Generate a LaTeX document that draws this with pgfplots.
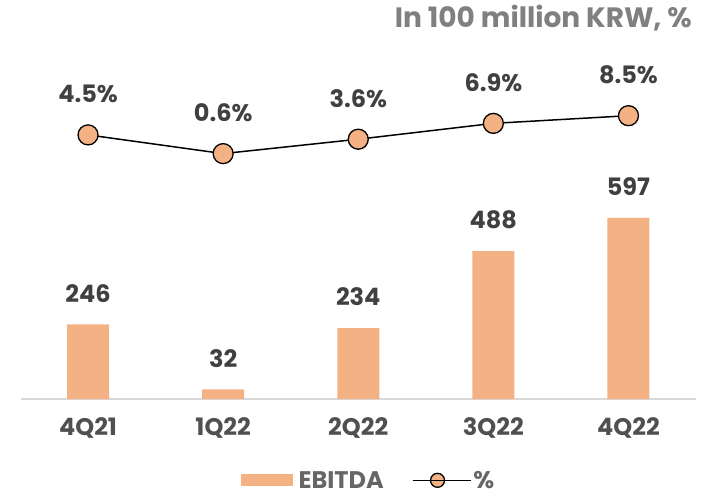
\documentclass[border=0pt]{standalone}
\usepackage{fontspec}
\setmainfont{Poppins}[BoldFont={Poppins Bold}]
\usepackage{pgfplots}
\pgfplotsset{compat=1.18}
\definecolor{barc}{HTML}{F4B183}
\definecolor{lab}{HTML}{404040}
\definecolor{tick}{HTML}{505050}
\definecolor{leg}{HTML}{666666}
\definecolor{ttl}{HTML}{808080}
\definecolor{base}{HTML}{D9D9D9}
\newcommand{\f}{\fontsize{24bp}{28bp}\selectfont\bfseries}
\newcommand{\ft}{\fontsize{28bp}{32bp}\selectfont\bfseries}
\begin{document}
\begin{tikzpicture}
\useasboundingbox (0,0) rectangle (702bp,497bp);
\node[anchor=base east, text=ttl, font=\ft, inner sep=0pt] at (692bp,469bp) {In 100 million KRW, \%};
\begin{axis}[
  at={(20.5bp,98bp)}, anchor=south west,
  scale only axis, width=675.5bp, height=299bp,
  xmin=-0.5, xmax=4.5, ymin=0, ymax=986.2,
  /pgf/number format/assume math mode=true,
  axis x line=bottom, axis y line=none,
  x axis line style={draw=base, line width=1.5bp, -},
  xtick=data, xticklabels={4Q21,1Q22,2Q22,3Q22,4Q22},
  major tick length=0pt,
  xticklabel style={anchor=center, yshift=-29bp, text=tick, font=\f},
  ytick=\empty,
  clip=false,
  legend columns=2,
  legend style={at={(0.515,-0.272)}, anchor=center, draw=none, fill=none,
    font=\f, text=leg, inner sep=0pt,
    /tikz/every even column/.append style={column sep=26bp}},
]
\addplot[ybar, bar width=42bp, fill=barc, draw=none,
  nodes near coords, nodes near coords style={anchor=center, yshift=31bp, text=lab, font=\f},
  legend image code/.code={\fill[barc] (0bp,-6bp) rectangle (52bp,6bp); \path (0bp,0bp) -- (56bp,0bp);}]
  coordinates {(0,246) (1,32) (2,234) (3,488) (4,597)};
\addlegendentry{EBITDA}
\addlegendimage{black, line width=1.5bp, mark=*, mark size=7bp,
  mark options={fill=barc, draw=black, line width=1.3bp},
  legend image code/.code={\draw[black, line width=1.5bp] (0bp,0bp) -- (50bp,0bp);
    \draw[fill=barc, draw=black, line width=1.3bp] (25bp,0bp) circle (7bp); \path (0bp,0bp) -- (58bp,0bp);}}
\addlegendentry{\%}
\end{axis}
\begin{axis}[
  at={(20.5bp,98bp)}, anchor=south west,
  scale only axis, width=675.5bp, height=299bp,
  xmin=-0.5, xmax=4.5, ymin=-50.52, ymax=11.77,
  /pgf/number format/assume math mode=true,
  hide axis, clip=false,
]
\addplot[black, line width=1.5bp, mark=*, mark size=10bp,
  mark options={fill=barc, draw=black, line width=1.3bp},
  nodes near coords={\pgfmathprintnumber[fixed, fixed zerofill, precision=1, assume math mode=true]{\pgfplotspointmeta}\%},
  nodes near coords style={anchor=center, yshift=41bp, text=lab, font=\f}]
  coordinates {(0,4.5) (1,0.6) (2,3.6) (3,6.9) (4,8.5)};
\end{axis}
\end{tikzpicture}
\end{document}
